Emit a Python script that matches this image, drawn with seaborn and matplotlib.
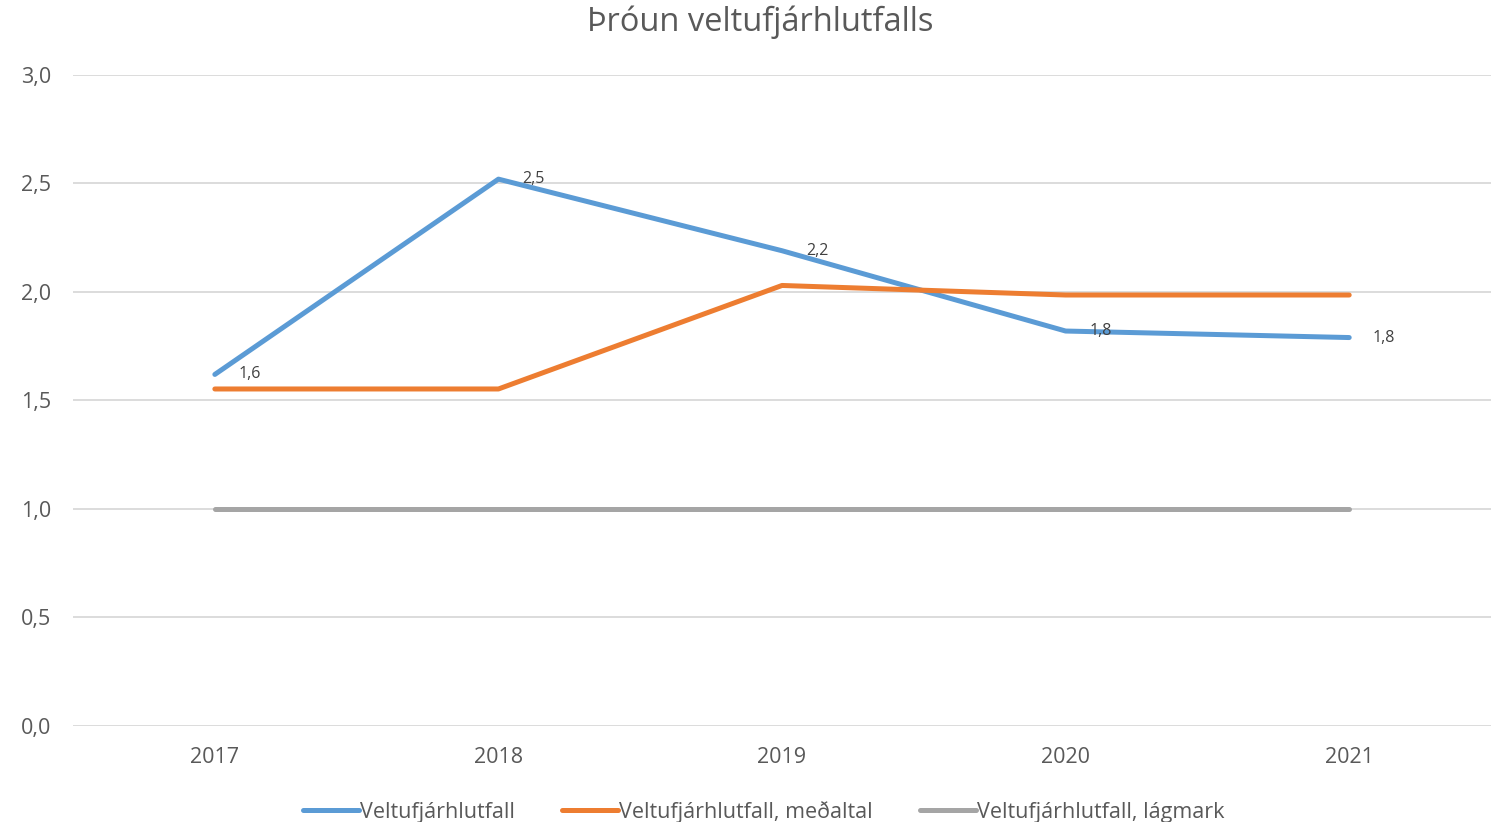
import matplotlib
matplotlib.use("Agg")
import matplotlib.pyplot as plt
import seaborn as sns
import pandas as pd

years = ["2017", "2018", "2019", "2020", "2021"]
veltufjar = [1.62, 2.52, 2.19, 1.82, 1.79]
medaltal = [1.553, 1.553, 2.03, 1.986, 1.986]
lagmark = [1.0, 1.0, 1.0, 1.0, 1.0]
label_text = ["1,6", "2,5", "2,2", "1,8", "1,8"]
yticks = [0.0, 0.5, 1.0, 1.5, 2.0, 2.5, 3.0]

names = ["Veltufjárhlutfall", "Veltufjárhlutfall, meðaltal", "Veltufjárhlutfall, lágmark"]
colors = ["#5B9BD5", "#ED7D31", "#A5A5A5"]

df = pd.concat([
    pd.DataFrame({"Ár": years, "Gildi": vals, "Röð": n})
    for n, vals in zip(names, [veltufjar, medaltal, lagmark])
])

sns.set_theme(style="white")
plt.rcParams['font.family'] = ['Open Sans', 'DejaVu Sans']

fig = plt.figure(figsize=(14.91, 8.22), dpi=100)
ax = fig.add_axes([0.049, 0.1168, 0.951, 0.792])

sns.lineplot(data=df, x="Ár", y="Gildi", hue="Röð", palette=colors,
             linewidth=3.6, ax=ax, sort=False)

ax.set_xlim(-0.5, 4.5)
ax.set_ylim(0, 3.0)
ax.set_yticks(yticks)
ax.set_yticklabels([f"{v:.1f}".replace(".", ",") for v in yticks])
ax.grid(axis="y", color="#D9D9D9", linewidth=1.3)
ax.set_axisbelow(True)
for s in ax.spines.values():
    s.set_visible(False)
ax.tick_params(axis="both", length=0, labelsize=15.5, colors="#595959")
ax.tick_params(axis="x", pad=15)
ax.tick_params(axis="y", pad=16)
ax.set_xlabel("")
ax.set_ylabel("")

for i, (v, t) in enumerate(zip(veltufjar, label_text)):
    ax.annotate(t, (i, v), xytext=(35, 0), textcoords="offset pixels",
                ha="center", va="center", fontsize=11.5, color="#404040")

fig.suptitle("Þróun veltufjárhlutfalls", x=0.51, y=0.993, fontsize=23.5, color="#595959")

ax.legend(loc="upper center", bbox_to_anchor=(0.487, -0.085), ncol=3, frameon=False,
          fontsize=15.5, handlelength=2.6, handletextpad=0.05, columnspacing=2.2,
          labelcolor="#595959")

fig.savefig("out.png", dpi=100)
